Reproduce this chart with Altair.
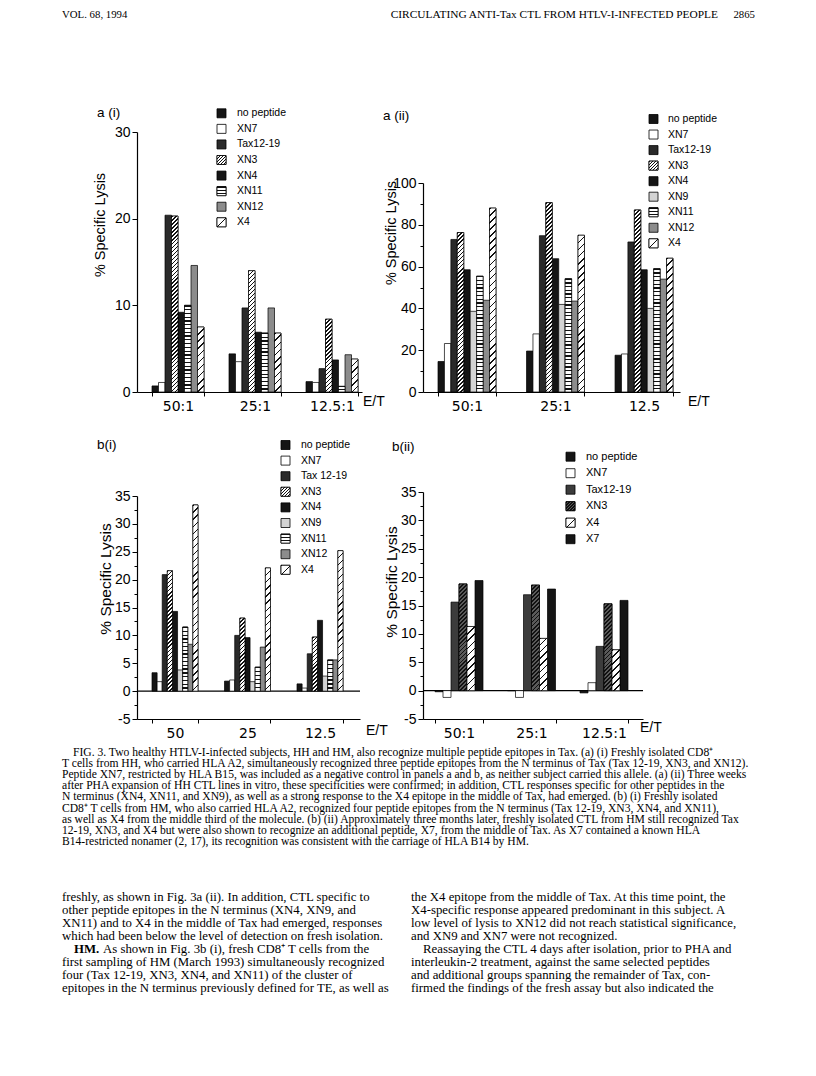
import altair as alt
import pandas as pd

SANS = "Liberation Sans"
NUMF = "DejaVu Sans"
SERIF = "Liberation Serif"

# ------------------------------------------------------------------ data
ai_categories = ["50:1", "25:1", "12.5:1"]
ai_series = ["no peptide", "XN7", "Tax12-19", "XN3", "XN4", "XN11", "XN12", "X4"]
ai_values = [
    [0.7, 4.4, 1.2],
    [1.1, 3.5, 1.1],
    [20.4, 9.7, 2.7],
    [20.3, 14.0, 8.4],
    [9.2, 6.9, 3.7],
    [10.0, 6.8, 0.65],
    [14.6, 9.7, 4.3],
    [7.5, 6.8, 3.8],
]
ai_ticks = [0, 10, 20, 30]

aii_categories = ["50:1", "25:1", "12.5"]
aii_series = ["no peptide", "XN7", "Tax12-19", "XN3", "XN4", "XN9", "XN11", "XN12", "X4"]
aii_values = [
    [14.6, 19.6, 17.6],
    [23.2, 27.8, 18.2],
    [73.0, 74.8, 71.8],
    [76.3, 90.6, 87.1],
    [58.5, 63.8, 58.5],
    [38.6, 41.9, 40.0],
    [55.4, 54.2, 59.0],
    [43.9, 43.5, 54.0],
    [88.0, 75.0, 64.0],
]
aii_ticks = [0, 10, 20, 30, 40, 50, 60, 70, 80, 90, 100]

bi_categories = ["50", "25", "12.5"]
bi_series = ["no peptide", "XN7", "Tax 12-19", "XN3", "XN4", "XN9", "XN11", "XN12", "X4"]
bi_values = [
    [3.3, 1.8, 1.3],
    [1.7, 2.0, 0.55],
    [20.9, 10.0, 6.7],
    [21.6, 13.1, 9.7],
    [14.3, 9.6, 12.7],
    [3.8, 1.7, 2.7],
    [11.5, 4.3, 5.6],
    [8.4, 7.9, 5.6],
    [33.4, 22.1, 25.2],
]

bii_categories = ["50:1", "25:1", "12.5:1"]
bii_series = ["no peptide", "XN7", "Tax12-19", "XN3", "X4", "X7"]
bii_values = [
    [-0.2, 0.0, -0.4],
    [-1.2, -1.2, 1.4],
    [15.6, 16.9, 7.8],
    [18.8, 18.6, 15.3],
    [11.3, 9.2, 7.2],
    [19.4, 17.9, 15.9],
]
b_ticks = [-5, -2.5, 0, 2.5, 5, 7.5, 10, 12.5, 15, 17.5, 20, 22.5, 25, 27.5, 30, 32.5, 35]

header_left = "VOL. 68, 1994"
header_mid = "CIRCULATING ANTI-Tax CTL FROM HTLV-I-INFECTED PEOPLE"
header_right = "2865"

caption_lines = [
    "FIG. 3. Two healthy HTLV-I-infected subjects, HH and HM, also recognize multiple peptide epitopes in Tax. (a) (i) Freshly isolated CD8\u207a",
    "T cells from HH, who carried HLA A2, simultaneously recognized three peptide epitopes from the N terminus of Tax (Tax 12-19, XN3, and XN12).",
    "Peptide XN7, restricted by HLA B15, was included as a negative control in panels a and b, as neither subject carried this allele. (a) (ii) Three weeks",
    "after PHA expansion of HH CTL lines in vitro, these specificities were confirmed; in addition, CTL responses specific for other peptides in the",
    "N terminus (XN4, XN11, and XN9), as well as a strong response to the X4 epitope in the middle of Tax, had emerged. (b) (i) Freshly isolated",
    "CD8\u207a T cells from HM, who also carried HLA A2, recognized four peptide epitopes from the N terminus (Tax 12-19, XN3, XN4, and XN11),",
    "as well as X4 from the middle third of the molecule. (b) (ii) Approximately three months later, freshly isolated CTL from HM still recognized Tax",
    "12-19, XN3, and X4 but were also shown to recognize an additional peptide, X7, from the middle of Tax. As X7 contained a known HLA",
    "B14-restricted nonamer (2, 17), its recognition was consistent with the carriage of HLA B14 by HM.",
]
body_left_lines = [
    "freshly, as shown in Fig. 3a (ii). In addition, CTL specific to",
    "other peptide epitopes in the N terminus (XN4, XN9, and",
    "XN11) and to X4 in the middle of Tax had emerged, responses",
    "which had been below the level of detection on fresh isolation.",
    "HM. As shown in Fig. 3b (i), fresh CD8\u207a T cells from the",
    "first sampling of HM (March 1993) simultaneously recognized",
    "four (Tax 12-19, XN3, XN4, and XN11) of the cluster of",
    "epitopes in the N terminus previously defined for TE, as well as",
]
body_right_lines = [
    "the X4 epitope from the middle of Tax. At this time point, the",
    "X4-specific response appeared predominant in this subject. A",
    "low level of lysis to XN12 did not reach statistical significance,",
    "and XN9 and XN7 were not recognized.",
    "Reassaying the CTL 4 days after isolation, prior to PHA and",
    "interleukin-2 treatment, against the same selected peptides",
    "and additional groups spanning the remainder of Tax, con-",
    "firmed the findings of the fresh assay but also indicated the",
]

ONE = pd.DataFrame({"k": [0]})


# ------------------------------------------------------------------ styles
def style(panel, ser):
    key = ser.replace(" ", "")
    if key in ("nopeptide", "XN4", "X7"):
        return ("solid", "#151515")
    if key == "XN7":
        return ("solid", "#ffffff")
    if key == "Tax12-19":
        return ("solid", "#3c3c3c" if panel == "bii" else "#2a2a2a")
    if key == "XN3":
        if panel == "bii":
            return ("diag", 4.0, 0.45, "#111111", "#5a5a5a")
        return ("diag", 4.0, 0.42, "#111111", "#ffffff")
    if key == "XN9":
        return ("solid", "#d3d3d3")
    if key == "XN11":
        return ("horiz", 3.7, 0.33, "#111111", "#ffffff")
    if key == "XN12":
        return ("solid", "#8c8c8c")
    if key == "X4":
        return ("diag", 7.0, 0.2, "#111111", "#ffffff")
    return ("solid", "#777777")


def diag_grad(w, h, period, frac, fg, bg):
    L = w + h
    n = max(1, int(round(L / period)))
    t = L / (w * w + h * h)
    stops = []
    for k in range(n):
        a, b, c = k / n, (k + frac) / n, (k + 1) / n
        stops += [(a, fg), (b, fg), (b, bg), (c, bg)]
    return {"gradient": "linear", "x1": 0, "y1": 0,
            "x2": round(t * w, 6), "y2": round(t * h, 6),
            "stops": [{"offset": round(o, 5), "color": col} for o, col in stops]}


def horiz_grad(h, period, frac, fg, bg):
    n = max(1, int(round(h / period)))
    stops = []
    for k in range(n):
        a, b, c = k / n, (k + frac) / n, (k + 1) / n
        stops += [(a, fg), (b, fg), (b, bg), (c, bg)]
    return {"gradient": "linear", "x1": 0, "y1": 0, "x2": 0, "y2": 1,
            "stops": [{"offset": round(o, 5), "color": col} for o, col in stops]}


def bar_grad(st, w, h):
    if st[0] == "diag":
        return diag_grad(w, h, st[1], st[2], st[3], st[4])
    return horiz_grad(h, st[1], st[2], st[3], st[4])


def legend_grad(st, side):
    if st[0] == "diag":
        if st[1] > 5:
            return diag_grad(side, side, side, 0.12, st[3], st[4])
        return diag_grad(side, side, 3.2, 0.45, st[3], st[4])
    return horiz_grad(side, 3.0, 0.3, st[3], st[4])


def label(text, x, y, size, font=SANS, align="left", angle=0, weight="normal"):
    kw = dict(text=text, align=align, baseline="middle", font=font, fontSize=size,
              fontWeight=weight, color="black")
    if angle:
        kw["angle"] = angle
    return alt.Chart(ONE).mark_text(**kw).encode(x=alt.value(x), y=alt.value(y))


# ------------------------------------------------------------------ panel
def build_panel(p, extra=()):
    cats, sers, vals = p["cats"], p["series"], p["values"]
    n, m = len(cats), len(sers)
    W, H = p["W"], p["H"]
    dmin, dmax = p["domain"]
    r0, r1 = p["range"]
    k = (dmax - dmin) / (r0 - r1)
    ppu = 1.0 / k
    bw = m * p["bar_w"]
    content = p["last_right"] - p["first_left"]
    step = (content - bw) / (n - 1)
    pin = 1 - bw / step
    outer = W - content
    pout = outer / (2 * step)
    align = p["first_left"] / outer
    barw = bw / m

    def px2val(py):
        return dmin + (r0 - py) * k

    rows = [{"cat": c, "ser": s, "v": vals[si][ci], "z": 0}
            for si, s in enumerate(sers) for ci, c in enumerate(cats)]
    df = pd.DataFrame(rows)

    xenc = alt.X("cat:N", title=None,
                 scale=alt.Scale(domain=cats, paddingInner=pin, paddingOuter=pout,
                                 align=align, round=False),
                 axis=alt.Axis(labelAngle=0, labelFont=NUMF, labelFontSize=14,
                               labelColor="black", labelPadding=p["xlabpad"],
                               labelOverlap=False, domainColor="black", domainWidth=1.2,
                               tickColor="black", tickWidth=1, tickSize=4,
                               tickBand="extent", grid=False))
    xo = alt.XOffset("ser:N", scale=alt.Scale(domain=sers, paddingInner=0, paddingOuter=0))
    ls = p["labstep"]
    yaxis = alt.Axis(values=p["ticks"],
                     labelExpr=f"datum.value % {ls} == 0 ? '' + datum.value : ''",
                     labelFont=SANS, labelFontSize=14, labelColor="black", labelPadding=2,
                     labelOverlap=False, domainColor="black", domainWidth=1.2,
                     tickColor="black", tickWidth=1,
                     tickSize={"condition": {"test": f"datum.value % {ls} == 0", "value": 5},
                               "value": 3},
                     grid=False)
    yscale = alt.Scale(domain=[dmin, dmax], range=[r0, r1], nice=False, zero=False)

    def yenc(field):
        return alt.Y(f"{field}:Q", title=None, scale=yscale, axis=yaxis)

    styles = [style(p["key"], s) for s in sers]
    base_cols = [st[1] if st[0] == "solid" else st[4] for st in styles]
    fillenc = alt.Fill("ser:N", scale=alt.Scale(domain=sers, range=base_cols), legend=None)

    layers = []
    if p["zero_line"]:
        zero = pd.DataFrame({"z": [0]})
        layers.append(alt.Chart(zero).mark_rule(color="black", strokeWidth=1.2).encode(
            x=alt.value(0), x2=alt.value(W), y=yenc("z")))

    layers.append(alt.Chart(df).mark_bar(stroke="black", strokeWidth=0.7).encode(
        x=xenc, xOffset=xo, y=yenc("v"), y2="z:Q", fill=fillenc))

    for si, s in enumerate(sers):
        st = styles[si]
        if st[0] == "solid":
            continue
        for ci, c in enumerate(cats):
            h = abs(vals[si][ci]) * ppu
            if h < 1.5:
                continue
            grad = bar_grad(st, barw, h)
            layers.append(
                alt.Chart(df)
                .transform_filter(f"datum.ser === '{s}' && datum.cat === '{c}'")
                .mark_bar(fill=grad, stroke="black", strokeWidth=0.7)
                .encode(x=xenc, xOffset=xo, y=yenc("v"), y2="z:Q"))

    # legend
    L = p["legend"]
    leg_df = pd.DataFrame({"ser": sers, "row": list(range(m))})
    a_ = px2val(L["y0"])
    b_ = -L["dy"] * k
    legbase = alt.Chart(leg_df).transform_calculate(ly=f"{a_} + ({b_}) * datum.row")
    side = 9
    layers.append(legbase.mark_square(size=side * side, stroke="black", strokeWidth=0.8,
                                      opacity=1).encode(
        x=alt.value(L["sqx"]), y=yenc("ly"), fill=fillenc))
    for i, s in enumerate(sers):
        st = styles[i]
        if st[0] == "solid":
            continue
        layers.append(legbase.transform_filter(f"datum.row === {i}").mark_square(
            size=side * side, fill=legend_grad(st, side), stroke="black", strokeWidth=0.8,
            opacity=1).encode(x=alt.value(L["sqx"]), y=yenc("ly")))
    layers.append(legbase.mark_text(align="left", baseline="middle", font=SANS,
                                    fontSize=L["fs"], color="black").encode(
        x=alt.value(L["lx"]), y=yenc("ly"), text="ser:N"))

    # texts
    tx, ty = p["title_pos"]
    layers.append(label(p["title"], tx, ty, 13.5))
    yx, yy = p["ytitle_pos"]
    layers.append(label("% Specific Lysis", yx, yy, p["ytitle_size"], align="center", angle=270))
    ex, ey = p["et_pos"]
    layers.append(label("E/T", ex, ey, 14))
    layers.extend(extra)

    return alt.layer(*layers).properties(width=W, height=H)


panels = {
    "ai": dict(key="ai", cats=ai_categories, series=ai_series, values=ai_values,
               W=225, H=260, domain=[0, 30], range=[260, 0],
               first_left=15, last_right=221, bar_w=6.5, ticks=ai_ticks, labstep=10,
               xlabpad=3, zero_line=False, title="a (i)", title_pos=(-40, -19),
               ytitle_pos=(-36, 93), ytitle_size=14.5, et_pos=(226, 270),
               legend=dict(sqx=84.5, lx=100, y0=-18.7, dy=15.57, fs=10.5)),
    "aii": dict(key="aii", cats=aii_categories, series=aii_series, values=aii_values,
                W=257, H=260, domain=[0, 100], range=[260, 51],
                first_left=15, last_right=250, bar_w=6.44, ticks=aii_ticks, labstep=20,
                xlabpad=3, zero_line=False, title="a (ii)", title_pos=(-40, -16),
                ytitle_pos=(-31, 101), ytitle_size=14.5, et_pos=(265, 270),
                legend=dict(sqx=230.5, lx=245, y0=-13, dy=15.54, fs=10.5)),
    "bi": dict(key="bi", cats=bi_categories, series=bi_series, values=bi_values,
               W=223, H=227, domain=[-5, 35], range=[227, 4],
               first_left=15, last_right=206, bar_w=5.11, ticks=b_ticks, labstep=5,
               xlabpad=3.5, zero_line=True, title="b(i)", title_pos=(-40, -47),
               ytitle_pos=(-31, 87), ytitle_size=15.5, et_pos=(229, 239),
               legend=dict(sqx=148.5, lx=164, y0=-47, dy=15.6, fs=10.5)),
    "bii": dict(key="bii", cats=bii_categories, series=bii_series, values=bii_values,
                W=220, H=227, domain=[-5, 35], range=[227, 0],
                first_left=12, last_right=205, bar_w=8.0, ticks=b_ticks, labstep=5,
                xlabpad=3.5, zero_line=True, title="b(ii)", title_pos=(-31, -45),
                ytitle_pos=(-31, 90), ytitle_size=15.5, et_pos=(217, 236),
                legend=dict(sqx=147.5, lx=163, y0=-35.3, dy=16.5, fs=11)),
}

# ---- page texts, placed relative to panel origins (a(i) at page 137,132; b(i) at 137,492)
AX, AY = 137, 132
BX, BY = 137, 492

header_layers = [
    # white 1px anchor at the page's top-left content corner (page 8, 8)
    alt.Chart(ONE).mark_rect(color="white").encode(
        x=alt.value(8 - AX), x2=alt.value(9 - AX), y=alt.value(8 - AY), y2=alt.value(9 - AY)),
    label(header_left, 62 - AX, 15 - AY, 10.8, font=SERIF),
    label(header_mid, 718 - AX, 15 - AY, 11.4, font=SERIF, align="right"),
    label(header_right, 755 - AX, 15 - AY, 10.8, font=SERIF, align="right"),
]

CAP = 11.6
BODY = 12.8
text_layers = []
for i, line in enumerate(caption_lines):
    x = 73 if i == 0 else 62
    text_layers.append(label(line, x - BX, 753 + i * 11.1 - BY, CAP, font=SERIF))
for i, line in enumerate(body_left_lines):
    y = 897 + i * 13.07 - BY
    if i == 4:
        text_layers.append(label(line[:3], 74 - BX, y, BODY, font=SERIF, weight="bold"))
        text_layers.append(label(line[4:], 103 - BX, y, BODY, font=SERIF))
    else:
        text_layers.append(label(line, 62 - BX, y, BODY, font=SERIF))
for i, line in enumerate(body_right_lines):
    y = 897 + i * 13.07 - BY
    x = 423 if i == 4 else 411
    text_layers.append(label(line, x - BX, y, BODY, font=SERIF))

chart = (
    alt.concat(
        build_panel(panels["ai"], header_layers),
        build_panel(panels["aii"]),
        build_panel(panels["bi"], text_layers),
        build_panel(panels["bii"]),
        columns=2, spacing={"row": 100, "column": 61}, bounds="flush", align="each",
    )
    .resolve_scale(fill="independent", xOffset="independent", x="independent",
                   y="independent")
    .properties(padding=0, background="white")
    .configure_view(strokeWidth=0, strokeOpacity=0)
)

chart.save("out.html", embed_options={"renderer": "svg", "actions": False})
